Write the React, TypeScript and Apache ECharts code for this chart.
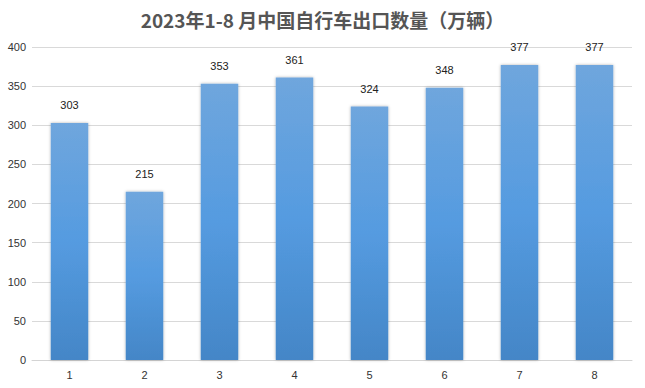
import React, { useEffect, useRef } from "react";
import * as echarts from "echarts";

const categories = ["1", "2", "3", "4", "5", "6", "7", "8"];
const values = [303, 215, 353, 361, 324, 348, 377, 377];
const yTicks = { min: 0, max: 400, interval: 50 };
const titleText = "2023年1-8 月中国自行车出口数量（万辆）";

export default function App() {
  const ref = useRef<HTMLDivElement>(null);
  useEffect(() => {
    const chart = echarts.init(ref.current!, null, { renderer: "svg" });
    chart.setOption({
      animation: false,
      backgroundColor: "#ffffff",
      title: {
        text: titleText,
        left: "center",
        top: 5,
        textStyle: { fontSize: 19, fontWeight: "bold", color: "#555555", fontFamily: "Noto Sans CJK SC" },
      },
      grid: { left: 32, right: 13, top: 47, bottom: 28, containLabel: false },
      xAxis: {
        type: "category",
        data: categories,
        axisLine: { lineStyle: { color: "#d4d4d4" } },
        axisTick: { show: false },
        axisLabel: { color: "#333333", fontSize: 11, margin: 9, fontFamily: "Liberation Sans" },
      },
      yAxis: {
        type: "value",
        min: yTicks.min,
        max: yTicks.max,
        interval: yTicks.interval,
        axisLine: { show: false },
        axisTick: { show: false },
        splitLine: { lineStyle: { color: "#d9d9d9" } },
        axisLabel: { color: "#333333", fontSize: 11, margin: 6, fontFamily: "Liberation Sans" },
      },
      series: [
        {
          type: "bar",
          data: values,
          barWidth: "50%",
          itemStyle: {
            color: new echarts.graphic.LinearGradient(0, 0, 0, 1, [
              { offset: 0, color: "#6fa6dd" },
              { offset: 0.5, color: "#559be0" },
              { offset: 1, color: "#4486c7" },
            ]),
            shadowColor: "rgba(0,0,0,0.3)",
            shadowBlur: 3,
            shadowOffsetX: 0,
            shadowOffsetY: 0,
          },
          label: {
            show: true,
            position: "top",
            distance: 12,
            color: "#222222",
            fontSize: 11,
            fontFamily: "Liberation Sans",
          },
        },
      ],
    });
    return () => chart.dispose();
  }, []);
  return <div ref={ref} style={{ width: 645, height: 388, position: "absolute", left: 0, top: 0 }} />;
}
